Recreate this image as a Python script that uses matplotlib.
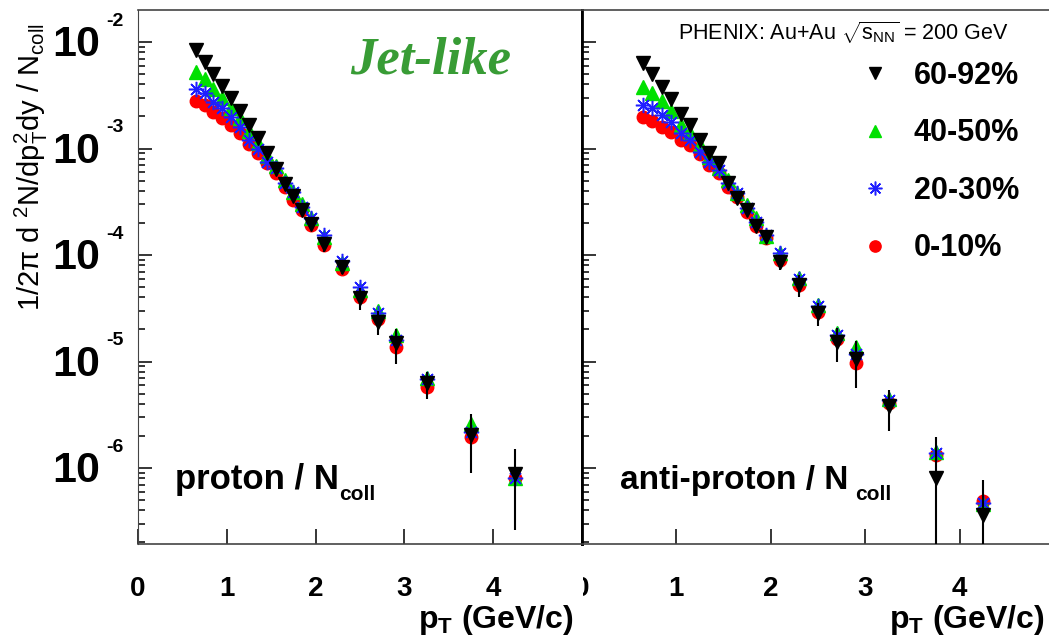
# PHENIX Au+Au 200 GeV: jet-like proton / anti-proton spectra scaled by Ncoll
import numpy as np
import matplotlib
matplotlib.use('Agg')
import matplotlib.pyplot as plt
import matplotlib.transforms as mtransforms
from matplotlib.patches import Rectangle

plt.rcParams['font.family'] = ['Liberation Sans', 'DejaVu Sans']
plt.rcParams['mathtext.fontset'] = 'custom'
plt.rcParams['mathtext.rm'] = 'Liberation Sans'
plt.rcParams['mathtext.it'] = 'Liberation Sans'
plt.rcParams['mathtext.bf'] = 'Liberation Sans:bold'

# pT bin centres (GeV/c)
pt = [0.65, 0.75, 0.85, 0.95, 1.05, 1.15, 1.25, 1.35, 1.45, 1.55, 1.65,
      1.75, 1.85, 1.95, 2.1, 2.3, 2.5, 2.7, 2.9, 3.25, 3.75, 4.25]

# protons
p_6092 = [8.41e-3, 6.56e-3, 5.06e-3, 3.86e-3, 2.98e-3, 2.25e-3, 1.66e-3, 1.26e-3, 9.07e-4, 6.42e-4, 4.64e-4,
          3.58e-4, 2.65e-4, 1.96e-4, 1.27e-4, 7.77e-5, 3.95e-5, 2.36e-5, 1.48e-5, 6.24e-6, 2.04e-6, 8.79e-7]
p_6092_err = [0, 0, 0, 0, 0, 0, 0, 0, 0, 0, 0,
              0, 1.2e-5, 1.2e-5, 2.0e-5, 1.1e-5, 9.0e-6, 6.0e-6, 5.3e-6, 1.8e-6, 1.15e-6, 6.2e-7]
p_4050 = [5.26e-3, 4.47e-3, 3.60e-3, 2.96e-3, 2.38e-3, 1.92e-3, 1.46e-3, 1.13e-3, 8.50e-4, 6.85e-4, 5.06e-4,
          3.90e-4, 3.01e-4, 2.23e-4, 1.49e-4, 8.41e-5, 4.69e-5, 2.98e-5, 1.77e-5, 6.96e-6, 2.59e-6, 8.11e-7]
p_2030 = [3.64e-3, 3.30e-3, 2.75e-3, 2.40e-3, 1.99e-3, 1.59e-3, 1.20e-3, 1.00e-3, 7.47e-4, 6.52e-4, 4.71e-4,
          3.93e-4, 2.84e-4, 2.21e-4, 1.54e-4, 8.84e-5, 5.04e-5, 2.85e-5, 1.59e-5, 6.85e-6, 2.19e-6, 8.11e-7]
p_0010 = [2.81e-3, 2.56e-3, 2.22e-3, 1.92e-3, 1.66e-3, 1.41e-3, 1.10e-3, 9.13e-4, 7.26e-4, 5.85e-4, 4.38e-4,
          3.28e-4, 2.65e-4, 1.91e-4, 1.24e-4, 7.34e-5, 4.03e-5, 2.51e-5, 1.38e-5, 5.80e-6, 1.94e-6, 8.05e-7]

# anti-protons
pb_6092 = [6.31e-3, 5.00e-3, 3.76e-3, 2.90e-3, 2.11e-3, 1.66e-3, 1.20e-3, 9.01e-4, 7.26e-4, 4.77e-4, 3.41e-4,
           2.65e-4, 1.87e-4, 1.49e-4, 8.65e-5, 5.23e-5, 2.84e-5, 1.53e-5, 1.06e-5, 3.82e-6, 8.00e-7, 3.62e-7]
pb_6092_err = [0, 0, 0, 0, 0, 0, 0, 0, 0, 0, 0,
               0, 1.0e-5, 1.0e-5, 1.4e-5, 1.2e-5, 7.0e-6, 5.3e-6, 5.0e-6, 1.6e-6, 1.14e-6, 4.1e-7]
pb_4050 = [3.76e-3, 3.30e-3, 2.79e-3, 2.25e-3, 1.66e-3, 1.41e-3, 1.08e-3, 8.38e-4, 6.52e-4, 5.06e-4, 3.80e-4,
           2.95e-4, 2.21e-4, 1.51e-4, 1.04e-4, 6.04e-5, 3.39e-5, 1.86e-5, 1.38e-5, 4.42e-6, 1.42e-6, 4.59e-7]
pb_2030 = [2.56e-3, 2.38e-3, 2.06e-3, 1.79e-3, 1.39e-3, 1.20e-3, 9.33e-4, 7.52e-4, 6.28e-4, 4.71e-4, 3.80e-4,
           2.75e-4, 2.06e-4, 1.54e-4, 1.04e-4, 5.91e-5, 3.32e-5, 1.77e-5, 1.17e-5, 4.35e-6, 1.39e-6, 4.66e-7]
pb_0010 = [1.96e-3, 1.82e-3, 1.60e-3, 1.44e-3, 1.20e-3, 1.08e-3, 8.88e-4, 7.00e-4, 5.85e-4, 4.38e-4, 3.53e-4,
           2.55e-4, 1.87e-4, 1.44e-4, 8.98e-5, 5.23e-5, 2.93e-5, 1.62e-5, 9.74e-6, 4.08e-6, 1.33e-6, 4.90e-7]

labels = ['60-92%', '40-50%', '20-30%', '0-10%']
decades = [-2, -3, -4, -5, -6]
xticks = [0, 1, 2, 3, 4]

W, H = 1049, 640
fig = plt.figure(figsize=(W / 100, H / 100), dpi=100)
ax1 = fig.add_axes([138 / W, 96 / H, 444 / W, 534 / H])
ax2 = fig.add_axes([581.5 / W, 96 / H, 472.5 / W, 534 / H])


def draw(ax, black, black_err, green, blue, red):
    x = np.array(pt)
    r, = ax.plot(x, red, 'o', color='#ff0000', ms=9, mec='#ff0000', zorder=3)
    g, = ax.plot(x, green, '^', color='#00e000', ms=10, mec='#00e000', zorder=4)
    b, = ax.plot(x, blue, marker=(8, 2, 0), ls='none', ms=11, mec='#1f1fff', mew=1.1, zorder=5)
    v = np.array(black)
    e = np.array(black_err)
    ax.errorbar(x, v, yerr=[np.minimum(e, v * 0.9999), e], fmt='none', ecolor='black', elinewidth=1.5, zorder=6)
    k, = ax.plot(x, v, 'v', color='black', ms=10, zorder=7)
    ax.set_yscale('log')
    ax.set_ylim(1.934e-7, 1.998e-2)
    ax.set_xlim(0, 5)
    ax.set_xticks(xticks)
    ax.tick_params(axis='x', which='major', direction='in', length=11, width=1.1, labelbottom=False)
    ax.tick_params(axis='x', which='minor', bottom=False)
    ax.tick_params(axis='y', which='major', direction='in', length=10, width=1.1, labelleft=False)
    ax.tick_params(axis='y', which='minor', direction='in', length=5, width=1.1, labelleft=False)
    for s in ['top', 'bottom']:
        ax.spines[s].set_color('#444444')
        ax.spines[s].set_linewidth(1.2)
    tr = mtransforms.blended_transform_factory(ax.transData, ax.transAxes)
    lbls = []
    for t in xticks:
        lbls.append(ax.text(t, -0.0835, str(t), transform=tr, ha='center', va='center',
                            fontsize=20, fontweight='bold'))
    ax.text(0.981, -0.142, r'$\mathbf{p}_{\mathbf{T}}$ (GeV/c)', transform=ax.transAxes,
            ha='right', va='center', fontsize=23, fontweight='bold')
    return (k, g, b, r), lbls


handles, _ = draw(ax1, p_6092, p_6092_err, p_4050, p_2030, p_0010)
_, lbls2 = draw(ax2, pb_6092, pb_6092_err, pb_4050, pb_2030, pb_0010)

ax1.spines['right'].set_color('black')
ax1.spines['right'].set_linewidth(2)
ax1.spines['left'].set_color('#444444')
ax2.spines['left'].set_color('black')
ax2.spines['left'].set_linewidth(2)
ax2.spines['right'].set_visible(False)

# the "0" of the right panel is cut by the divider
clip = Rectangle((583 / W, 0), 1, 1, transform=fig.transFigure)
lbls2[0].set_clip_path(clip)
lbls2[0].set_clip_on(True)

# y tick labels 10^k
ytr = mtransforms.blended_transform_factory(ax1.transAxes, ax1.transData)
base = mtransforms.offset_copy(ytr, fig=fig, y=-3, units='dots')
ex = mtransforms.offset_copy(ytr, fig=fig, y=21, units='dots')
for k in decades:
    ax1.text(-0.0856, 10.0 ** k, '10', transform=base, ha='right', va='center',
             fontsize=31, fontweight='bold')
    ax1.text(-0.072, 10.0 ** k, str(k), transform=ex, ha='left', va='center',
             fontsize=14, fontweight='bold')

fig.text(31 / W, 1 - 167 / H, r'1/2$\pi$ d $^{2}$N/dp$_{T}^{2}$dy / N$_{coll}$',
         rotation=90, ha='center', va='center', fontsize=21)

fig.text(350 / W, 1 - 60 / H, 'Jet-like', family='Liberation Serif', style='italic',
         fontweight='bold', fontsize=38, color='#389c35', ha='left', va='center')
fig.text(678 / W, 1 - 33 / H, r'PHENIX: Au+Au $\sqrt{s_{NN}}$ = 200 GeV', fontsize=15.5,
         ha='left', va='center')

fig.text(175 / W, 1 - 480 / H, 'proton / N', fontsize=25, fontweight='bold', ha='left', va='center')
fig.text(339 / W, 1 - 495 / H, 'coll', fontsize=15, fontweight='bold', ha='left', va='center')
fig.text(620 / W, 1 - 480 / H, 'anti-proton / N', fontsize=24, fontweight='bold', ha='left', va='center')
fig.text(855 / W, 1 - 495 / H, 'coll', fontsize=15, fontweight='bold', ha='left', va='center')

ax2.legend(handles, labels, loc='upper left', bbox_to_anchor=(0.588, 0.905), frameon=False,
           prop={'size': 22, 'weight': 'bold'}, handlelength=1.0, handletextpad=0.78,
           labelspacing=0.9, borderpad=0, borderaxespad=0, markerscale=0.9)

fig.savefig('out.png', dpi=100)
